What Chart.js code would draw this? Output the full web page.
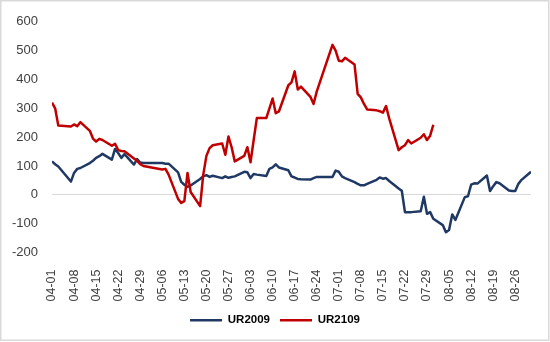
<!DOCTYPE html>
<html><head><meta charset="utf-8">
<script src="https://cdn.jsdelivr.net/npm/chart.js@4.4.1/dist/chart.umd.min.js"></script>
<style>html,body{margin:0;padding:0;background:#fff}</style>
</head><body>
<canvas id="c" width="550" height="342"></canvas>
<script>
// Trading dates (2020), MM-DD
const dates = [
'04-01','04-02','04-03','04-07','04-08','04-09','04-10','04-13','04-14','04-15','04-16','04-17',
'04-20','04-21','04-22','04-23','04-24','04-27','04-28','04-29','04-30',
'05-06','05-07','05-08','05-11','05-12','05-13','05-14','05-15','05-18','05-19','05-20','05-21','05-22',
'05-25','05-26','05-27','05-28','05-29',
'06-01','06-02','06-03','06-04','06-05','06-08','06-09','06-10','06-11','06-12','06-15','06-16','06-17',
'06-18','06-19','06-22','06-23','06-24','06-29','06-30',
'07-01','07-02','07-03','07-06','07-07','07-08','07-09','07-10','07-13','07-14','07-15','07-16','07-17',
'07-20','07-21','07-22','07-23','07-24','07-27','07-28','07-29','07-30','07-31',
'08-03','08-04','08-05','08-06','08-07','08-10','08-11','08-12','08-13','08-14','08-17','08-18','08-19',
'08-20','08-21','08-24','08-25','08-26','08-27','08-28','08-31'
];
const ur2009 = [
116,106,98,46,76,90,93,110,118,128,134,142,
122,159,145,128,141,105,124,112,110,
110,108,108,78,45,35,28,32,55,65,68,62,66,
58,64,59,62,64,
80,78,58,72,70,65,90,95,106,95,85,64,60,
55,54,53,58,62,62,84,
80,64,58,44,38,33,33,38,52,60,56,58,48,
22,14,-60,-60,-60,-57,-7,-66,-60,-83,
-105,-130,-122,-68,-87,-8,-5,35,40,39,67,13,30,
44,40,15,13,13,38,52,80
];
const ur2109 = [
320,300,240,237,244,238,252,222,195,185,194,190,
170,177,155,152,151,126,118,106,100,
88,90,70,-14,-28,-22,76,10,-39,70,135,162,172,
178,139,202,165,116,
135,165,113,190,266,266,300,334,283,289,380,390,428,
365,375,340,315,358,520,500,
465,463,475,452,350,338,315,296,293,290,285,308,265,
155,165,172,190,178,198,210,190,205,243
];
const tickLabels = ['04-01','04-08','04-15','04-22','04-29','05-06','05-13','05-20','05-27','06-03',
'06-10','06-17','06-24','07-01','07-08','07-15','07-22','07-29','08-05','08-12','08-19','08-26'];
const axisEnd = '08-31';
const seriesNames = ['UR2009','UR2109'];

function dayIndex(md){const [m,d]=md.split('-').map(Number);return Math.round((Date.UTC(2020,m-1,d)-Date.UTC(2020,3,1))/864e5);}
function pts(vals){return vals.map((v,i)=>({x:dayIndex(dates[i]),y:v}));}
const tickPos = tickLabels.map(dayIndex);
const labelAt = {}; tickLabels.forEach(l=>{labelAt[dayIndex(l)]=l;});

const FONT = "'Liberation Sans', Arial, sans-serif";
const TXT = '#404040';

const frame = {
  id:'frame',
  afterDraw(chart){
    const c = chart.ctx; c.save(); c.strokeStyle='#d9d9d9'; c.lineWidth=1.5;
    c.strokeRect(0.75,0.75,548,339.5); c.restore();
  }
};

new Chart(document.getElementById('c'), {
  type:'line',
  data:{datasets:[
    {label:seriesNames[0], data:pts(ur2009), borderColor:'#1F3864', backgroundColor:'#1F3864', borderWidth:2.5, pointRadius:0, tension:0, borderJoinStyle:'round', order:1},
    {label:seriesNames[1], data:pts(ur2109), borderColor:'#C00000', backgroundColor:'#C00000', borderWidth:2.5, pointRadius:0, tension:0, borderJoinStyle:'round', order:0}
  ]},
  options:{
    responsive:false, animation:false, devicePixelRatio:1,
    layout:{padding:{top:18,left:0,right:0,bottom:6}},
    plugins:{
      tooltip:{enabled:false},
      legend:{position:'bottom', labels:{usePointStyle:true, pointStyle:'line', pointStyleWidth:32, boxHeight:11, padding:10,
        color:'#000', font:{family:FONT, size:11.5, weight:'bold'}, sort:(a,b)=>a.datasetIndex-b.datasetIndex}}
    },
    scales:{
      x:{type:'linear', min:0, max:dayIndex(axisEnd),
        afterBuildTicks(s){s.ticks = tickPos.map(v=>({value:v}));},
        afterFit(s){s.height=52;},
        grid:{display:false}, border:{display:false},
        ticks:{autoSkip:false, minRotation:90, maxRotation:90, padding:9, color:TXT,
          font:{family:FONT,size:12.5}, callback:(v)=>labelAt[v] ?? ''}},
      y:{min:-200, max:600,
        afterFit(s){s.width=52;},
        grid:{drawTicks:false, lineWidth:1, color:(c)=>c.tick && c.tick.value===0 ? '#d9d9d9':'rgba(0,0,0,0)'},
        border:{display:false},
        ticks:{stepSize:100, padding:14, color:TXT, font:{family:FONT,size:13}}},
      y2:{position:'right', display:true, grid:{display:false}, border:{display:false},
        ticks:{display:false}, afterFit(s){s.width=19;}}
    }
  },
  plugins:[frame]
});
</script>
</body></html>
